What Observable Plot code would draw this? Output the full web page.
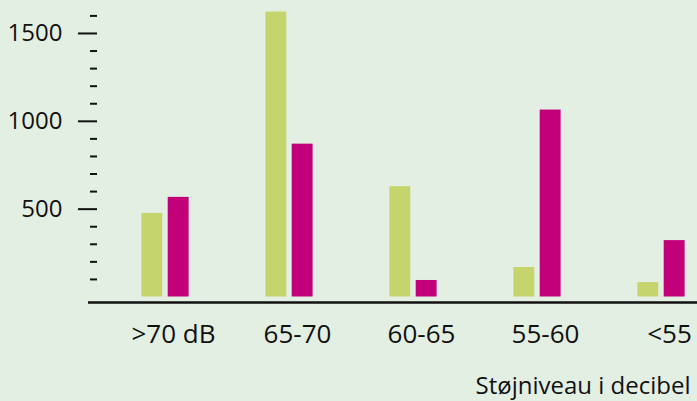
<!DOCTYPE html>
<html>
<head>
<meta charset="utf-8">
<script src="https://cdn.jsdelivr.net/npm/d3@7"></script>
<script src="https://cdn.jsdelivr.net/npm/@observablehq/plot@0.6"></script>
<style>
  html, body { margin: 0; padding: 0; background: #e4efe3; }
  #chart { width: 697px; height: 401px; overflow: hidden; }
</style>
</head>
<body>
<div id="chart"></div>
<script>
const categories = [">70 dB", "65-70", "60-65", "55-60", "<55"];
const greenValues = [476, 1622, 628, 168, 82];
const magentaValues = [567, 870, 94, 1064, 321];
const majorTicks = [500, 1000, 1500];
const minorTicks = [100, 200, 300, 400, 600, 700, 800, 900, 1100, 1200, 1300, 1400, 1600];
const axisTitle = "Støjniveau i decibel";

const greenData = categories.map((c, i) => ({category: c, value: greenValues[i]}));
const magentaData = categories.map((c, i) => ({category: c, value: magentaValues[i]}));

const bg = "#e4efe3";
const font = "'Open Sans', Lato, sans-serif";
const chart = Plot.plot({
  width: 697,
  height: 401,
  marginLeft: 97,
  marginRight: 0,
  marginTop: 0,
  marginBottom: 99,
  style: {fontFamily: font, fontSize: "24px", background: bg, color: "#111"},
  x: {domain: categories, range: [100.8, 724.8], padding: 0, label: null},
  y: {domain: [0, 1600], range: [296.5, 15.4], label: null},
  marks: [
    Plot.barY(greenData, {x: "category", y: "value", fill: "#c5d46d", insetLeft: 38.4, insetRight: 64.7}),
    Plot.barY(magentaData, {x: "category", y: "value", fill: "#c1007a", insetLeft: 64.7, insetRight: 38.4}),
    Plot.axisY(majorTicks, {tickSize: 19, tickPadding: 16, strokeWidth: 2, stroke: "#111", label: null, fontSize: 24, tickFormat: d => String(d)}),
    Plot.axisY(minorTicks, {tickSize: 7, text: null, strokeWidth: 2, stroke: "#111", label: null}),
    Plot.ruleY([0], {dy: 5.5, insetLeft: -9, stroke: "#111", strokeWidth: 2.3}),
    Plot.axisX({tickSize: 0, tickPadding: 22, dx: 8, label: null, fontSize: 26}),
    Plot.text([axisTitle], {text: d => d, frameAnchor: "bottom-right", textAnchor: "end", lineAnchor: "middle", dx: -7, dy: 84, fontSize: 24, fill: "#111"})
  ]
});
document.getElementById("chart").appendChild(chart);
</script>
</body>
</html>
